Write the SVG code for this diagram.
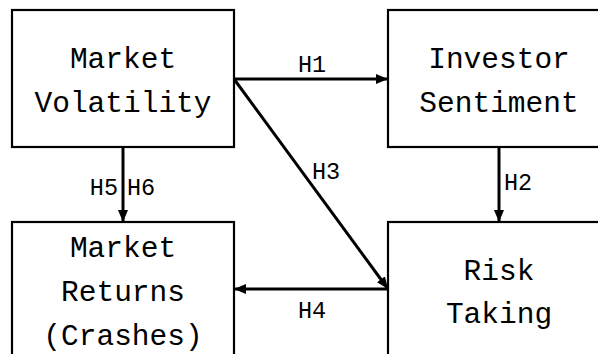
<svg xmlns="http://www.w3.org/2000/svg" width="598" height="354" viewBox="0 0 598 354">
<defs>
<style>
.box{fill:#fff;stroke:#000;stroke-width:2.2}
.t{font-family:"Liberation Mono","DejaVu Sans Mono",monospace;font-size:29.5px;fill:#000;text-anchor:middle}
.l{font-family:"Liberation Mono","DejaVu Sans Mono",monospace;font-size:23.5px;fill:#000}
.e{stroke:#000;stroke-width:3;fill:none;marker-end:url(#ah)}
</style>
<marker id="ah" viewBox="0 0 12 10" refX="12" refY="5" markerWidth="12" markerHeight="10" markerUnits="userSpaceOnUse" orient="auto">
<path d="M0,0 L12,5 L0,10 Z" fill="#000"/>
</marker>
</defs>
<rect width="598" height="354" fill="#fff"/>
<g id="market-volatility">
<rect class="box" x="12" y="10" width="222" height="137"/>
<text class="t" x="123" y="68">Market</text>
<text class="t" x="123" y="112">Volatility</text>
</g>
<g id="investor-sentiment">
<rect class="box" x="388" y="10" width="222" height="137"/>
<text class="t" x="499" y="68">Investor</text>
<text class="t" x="499" y="112">Sentiment</text>
</g>
<g id="market-returns">
<rect class="box" x="12" y="222" width="222" height="150"/>
<text class="t" x="123" y="257">Market</text>
<text class="t" x="123" y="301">Returns</text>
<text class="t" x="123" y="345">(Crashes)</text>
</g>
<g id="risk-taking">
<rect class="box" x="388" y="222" width="222" height="150"/>
<text class="t" x="499" y="280">Risk</text>
<text class="t" x="499" y="323">Taking</text>
</g>
<g id="connectors">
<line class="e" x1="234" y1="79" x2="388" y2="79"/>
<line class="e" x1="234" y1="79" x2="388" y2="289"/>
<line class="e" x1="499" y1="147" x2="499" y2="222"/>
<line class="e" x1="388" y1="289" x2="234" y2="289"/>
<line class="e" x1="123" y1="147" x2="123" y2="222"/>
<text class="l" x="312" y="72" text-anchor="middle">H1</text>
<text class="l" x="312" y="179">H3</text>
<text class="l" x="504" y="190">H2</text>
<text class="l" x="312" y="318" text-anchor="middle">H4</text>
<text class="l" x="118" y="195" text-anchor="end">H5</text>
<text class="l" x="127" y="195">H6</text>
</g>
</svg>
